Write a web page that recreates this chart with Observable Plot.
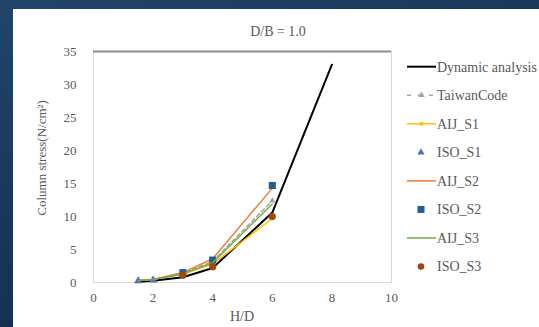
<!DOCTYPE html>
<html>
<head>
<meta charset="utf-8">
<script src="https://cdn.jsdelivr.net/npm/d3@7"></script>
<script src="https://cdn.jsdelivr.net/npm/@observablehq/plot@0.6"></script>
<style>
  html, body { margin: 0; padding: 0; }
  body { width: 539px; height: 327px; overflow: hidden; position: relative;
         background: linear-gradient(160deg, #21446b 0%, #173656 50%, #0e2640 100%); }
  #panel { position: absolute; left: 13px; top: 9px; right: 0; bottom: 0; background: #fff; }
  #chart { position: absolute; left: 0; top: 0; }
  #chart svg, #chart svg text { font-family: "Liberation Serif", serif !important; }
</style>
</head>
<body>
<div id="panel"></div>
<div id="chart"></div>
<script>
// ---- data ----
const title = "D/B = 1.0";
const xLabel = "H/D";
const yLabel = "Column stress(N/cm²)";
const xTicks = [0, 2, 4, 6, 8, 10];
const yTicks = [0, 5, 10, 15, 20, 25, 30, 35];

const dynamicHD = [1.5, 2, 3, 4, 6, 8];
const dynamicVal = [0.1, 0.25, 0.8, 2.2, 10.6, 33];

const codeHD = [1.5, 2, 3, 4, 6];
const taiwanVal = [0.3, 0.45, 1.4, 3.2, 12.4];
const aijS1Val = [0.35, 0.5, 1.3, 2.8, 9.7];
const aijS2Val = [0.3, 0.45, 1.5, 3.6, 14.3];
const aijS3Val = [0.3, 0.45, 1.3, 3.0, 11.9];

const isoS1HD = [1.5, 2];
const isoS1Val = [0.25, 0.35];
const isoHD = [3, 4, 6];
const isoS2Val = [1.5, 3.4, 14.7];
const isoS3Val = [1.1, 2.4, 10.0];

const seriesNames = ["Dynamic analysis", "TaiwanCode", "AIJ_S1", "ISO_S1", "AIJ_S2", "ISO_S2", "AIJ_S3", "ISO_S3"];
const seriesColors = ["#000000", "#a5a5a5", "#ffc000", "#4472c4", "#ed7d31", "#255e91", "#70ad47", "#9e480e"];

const zip = (xs, ys) => xs.map((x, i) => ({x, y: ys[i]}));
const dyn = zip(dynamicHD, dynamicVal);
const tw = zip(codeHD, taiwanVal);
const a1 = zip(codeHD, aijS1Val);
const i1 = zip(isoS1HD, isoS1Val);
const a2 = zip(codeHD, aijS2Val);
const i2 = zip(isoHD, isoS2Val);
const a3 = zip(codeHD, aijS3Val);
const i3 = zip(isoHD, isoS3Val);

const font = "Liberation Serif, serif";
const textColor = "#595959";

const plot = Plot.plot({
  width: 539,
  height: 327,
  marginLeft: 93,
  marginRight: 148,
  marginTop: 51,
  marginBottom: 45,
  style: {background: "transparent", fontFamily: font, fontSize: "13px", color: textColor},
  x: {domain: [0, 10], ticks: xTicks, tickSize: 0, tickPadding: 10, label: null},
  y: {domain: [0, 35], ticks: yTicks, tickSize: 0, tickPadding: 17, label: null},
  marks: [
    Plot.frame({stroke: "#d9d9d9"}),
    Plot.ruleY([35], {stroke: "#8c8c8c", strokeWidth: 2}),
    Plot.line(dyn, {x: "x", y: "y", stroke: seriesColors[0], strokeWidth: 2}),
    Plot.line(tw, {x: "x", y: "y", stroke: seriesColors[1], strokeWidth: 1.5, strokeDasharray: "4,3"}),
    Plot.dot(tw, {x: "x", y: "y", symbol: "triangle", r: 2.4, fill: seriesColors[1]}),
    Plot.line(a1, {x: "x", y: "y", stroke: seriesColors[2], strokeWidth: 1.5}),
    Plot.dot(a1, {x: "x", y: "y", symbol: "circle", r: 2, fill: seriesColors[2]}),
    Plot.dot(i1, {x: "x", y: "y", symbol: "triangle", r: 3, fill: seriesColors[3]}),
    Plot.line(a2, {x: "x", y: "y", stroke: seriesColors[4], strokeWidth: 1.5}),
    Plot.dot(i2, {x: "x", y: "y", symbol: "square", r: 4, fill: seriesColors[5]}),
    Plot.line(a3, {x: "x", y: "y", stroke: seriesColors[6], strokeWidth: 1.5}),
    Plot.dot(i3, {x: "x", y: "y", symbol: "circle", r: 3.6, fill: seriesColors[7]})
  ]
});
document.getElementById("chart").appendChild(plot);

const svg = d3.select(plot);
svg.append("text").attr("x", 278).attr("y", 31).attr("text-anchor", "middle").attr("dy", "0.35em")
  .attr("fill", textColor).style("font-size", "14px").text(title);
svg.append("text").attr("x", 242).attr("y", 316).attr("text-anchor", "middle").attr("dy", "0.35em")
  .attr("fill", textColor).style("font-size", "14px").text(xLabel);
svg.append("text").attr("transform", "translate(41,158) rotate(-90)").attr("text-anchor", "middle").attr("dy", "0.35em")
  .attr("fill", textColor).style("font-size", "13px").text(yLabel);

// legend
const legendKinds = ["line", "dashtri", "linecircle", "tri", "line", "square", "line", "circle"];
const lg = svg.append("g").attr("text-anchor", "start");
seriesNames.forEach((name, i) => {
  const y = 66.7 + i * 28.55;
  const c = seriesColors[i];
  const k = legendKinds[i];
  const g = lg.append("g").attr("transform", `translate(0,${y})`);
  if (k === "line" || k === "linecircle") {
    g.append("line").attr("x1", 407).attr("x2", 436).attr("y1", 0).attr("y2", 0)
      .attr("stroke", c).attr("stroke-width", i === 0 ? 2 : 1.5);
  }
  if (k === "linecircle") g.append("circle").attr("cx", 421.5).attr("cy", 0).attr("r", 2).attr("fill", c);
  if (k === "dashtri") {
    g.append("line").attr("x1", 407).attr("x2", 436).attr("y1", 0).attr("y2", 0)
      .attr("stroke", c).attr("stroke-width", 1.5).attr("stroke-dasharray", "4,7");
    g.append("path").attr("d", d3.symbol(d3.symbolTriangle, 18)()).attr("transform", "translate(421.5,0)").attr("fill", c);
  }
  if (k === "tri") g.append("path").attr("d", d3.symbol(d3.symbolTriangle, 22)()).attr("transform", "translate(421,0)").attr("fill", c);
  if (k === "square") g.append("rect").attr("x", 417.5).attr("y", -3.5).attr("width", 7).attr("height", 7).attr("fill", c);
  if (k === "circle") g.append("circle").attr("cx", 421).attr("cy", 0).attr("r", 3.3).attr("fill", c);
  g.append("text").attr("x", 437).attr("y", 0).attr("dy", "0.35em").attr("text-anchor", "start").attr("fill", textColor)
    .style("font-size", "14px").text(name);
});
</script>
</body>
</html>
